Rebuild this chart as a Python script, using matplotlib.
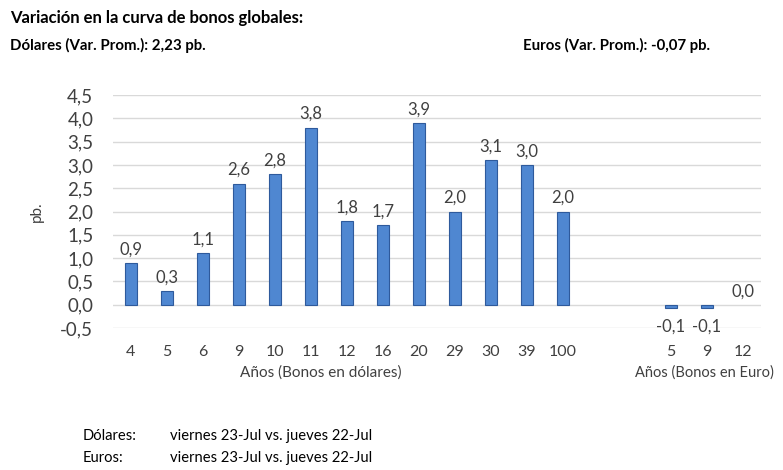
import matplotlib
matplotlib.use('Agg')
from matplotlib import pyplot as plt
import numpy as np

plt.rcParams['font.family'] = ['Lato', 'DejaVu Sans']

usd_plazos = ['4', '5', '6', '9', '10', '11', '12', '16', '20', '29', '30', '39', '100']
usd_var = [0.9, 0.3, 1.1, 2.6, 2.8, 3.8, 1.8, 1.7, 3.9, 2.0, 3.1, 3.0, 2.0]
eur_plazos = ['5', '9', '12']
eur_var = [-0.1, -0.1, 0.0]
# para dibujar las barras de euros casi nulas
eur_bar = [-0.07, -0.07, 0.0]

def coma(v):
	return ('%.1f' % v).replace('.', ',')

fig = plt.figure(figsize=(7.83, 4.70), dpi=100)
ax = fig.add_axes([0.144, 0.302, 0.828, 0.496])

xu = np.arange(len(usd_plazos))
xe = np.arange(len(eur_plazos)) + len(usd_plazos) + 2
color = '#4F87D1'
borde = '#2E5A9C'
ax.bar(xu, usd_var, width=0.34, color=color, edgecolor=borde, linewidth=0.8, zorder=3)
lw_eur = [0.8 if v != 0 else 0 for v in eur_bar]
ax.bar(xe, eur_bar, width=0.34, color=color, edgecolor=borde, linewidth=lw_eur, zorder=3)

gris = '#404040'
for x, v in zip(xu, usd_var):
	ax.text(x, v + 0.12, coma(v), ha='center', va='bottom', fontsize=12, color=gris)
for x, v in zip(xe, eur_var):
	if v < 0:
		ax.text(x, v - 0.2, coma(v), ha='center', va='top', fontsize=12, color=gris)
	else:
		ax.text(x, v + 0.12, coma(v), ha='center', va='bottom', fontsize=12, color=gris)

ax.set_ylim(-0.5, 4.5)
ax.set_xlim(-0.5, xe[-1] + 0.5)
yt = np.arange(-0.5, 4.51, 0.5)
ax.set_yticks(yt)
ax.set_yticklabels([coma(v) for v in yt], fontsize=13.5, color=gris)
ax.set_xticks(list(xu) + list(xe))
ax.set_xticklabels(usd_plazos + eur_plazos, fontsize=11.5, color=gris)
ax.tick_params(length=0, pad=14)
ax.tick_params(axis='x', pad=12)
ax.grid(axis='y', color='#D9D9D9', linewidth=1, zorder=0)
for s in ax.spines.values():
	s.set_visible(False)

ax.set_ylabel('pb.', fontsize=11, color=gris, labelpad=12)
fig.text(0.41, 0.198, 'Años (Bonos en dólares)', ha='center', fontsize=11, color=gris)
fig.text(0.90, 0.198, 'Años (Bonos en Euro)', ha='center', fontsize=10.5, color=gris)

fig.text(0.013, 0.952, 'Variación en la curva de bonos globales:', fontsize=12, weight='bold', color='black')
fig.text(0.013, 0.893, 'Dólares (Var. Prom.): 2,23 pb.', fontsize=10.8, weight='bold', color='black')
fig.text(0.668, 0.893, 'Euros (Var. Prom.): -0,07 pb.', fontsize=10.8, weight='bold', color='black')

fig.text(0.105, 0.063, 'Dólares:', fontsize=10.6, color='black')
fig.text(0.217, 0.063, 'viernes 23-Jul vs. jueves 22-Jul', fontsize=10.6, color='black')
fig.text(0.105, 0.018, 'Euros:', fontsize=10.6, color='black')
fig.text(0.217, 0.018, 'viernes 23-Jul vs. jueves 22-Jul', fontsize=10.6, color='black')

fig.savefig('out.png', dpi=100)
